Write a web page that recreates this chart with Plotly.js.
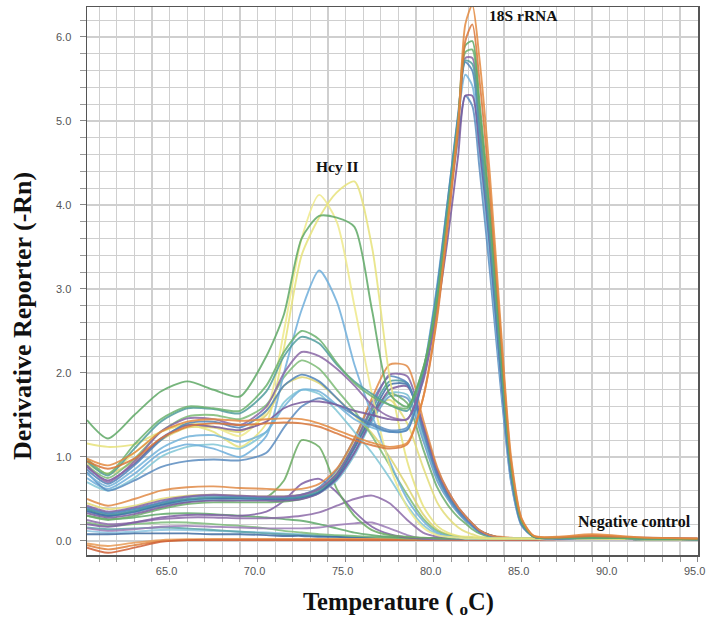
<!DOCTYPE html>
<html>
<head>
<meta charset="utf-8">
<script src="https://cdn.plot.ly/plotly-3.0.1.min.js"></script>
<style>html,body{margin:0;padding:0;background:#fff;}#chart{width:706px;height:620px;}</style>
</head>
<body>
<div id="chart"></div>
<script>
// Temperature grid (°C)
const temperature = [60.31, 61.5, 63, 64.5, 66, 67.5, 69, 70.5, 71.5, 72.5, 73.5, 74.5, 75.5, 76.5, 77.5, 78.5, 79.4, 80.2, 80.8, 81.4, 81.8, 82.2, 82.6, 83.2, 83.8, 84.4, 85.0, 85.7, 87, 89, 92, 95];

// Baseline / negative control curves
const b1 = [0.12,0.10,0.11,0.13,0.13,0.12,0.11,0.10,0.09,0.08,0.07,0.06,0.05,0.04,0.04, 0.03,0.03,0.03,0.03,0.03,0.03,0.03,0.03,0.03,0.03,0.03,0.03,0.03,0.03,0.03,0.02,0.02];
const b2 = [0.16,0.14,0.15,0.16,0.15,0.13,0.11,0.09,0.08,0.07,0.06,0.05,0.05,0.04,0.04, 0.03,0.03,0.03,0.03,0.03,0.03,0.03,0.03,0.03,0.03,0.03,0.03,0.03,0.03,0.03,0.02,0.02];
const b3 = [0.08,0.08,0.09,0.09,0.09,0.08,0.08,0.07,0.06,0.06,0.05,0.05,0.04,0.04,0.04, 0.03,0.03,0.03,0.03,0.03,0.03,0.03,0.03,0.03,0.03,0.03,0.03,0.03,0.03,0.03,0.02,0.02];
const b4 = [-0.05,-0.10,-0.05,0.00,0.01,0.02,0.02,0.02,0.02,0.02,0.02,0.02,0.02,0.02,0.02, 0.02,0.02,0.02,0.02,0.02,0.02,0.02,0.02,0.02,0.02,0.02,0.02,0.02,0.03,0.06,0.03,0.02];
const b5 = [-0.03,-0.06,-0.02,0.01,0.02,0.02,0.02,0.02,0.02,0.02,0.02,0.02,0.02,0.02,0.02, 0.02,0.02,0.02,0.02,0.02,0.02,0.02,0.02,0.02,0.02,0.02,0.02,0.02,0.03,0.04,0.03,0.02];
const b6 = [-0.08,-0.14,-0.08,-0.01,0.01,0.01,0.01,0.01,0.01,0.01,0.01,0.01,0.01,0.01,0.01, 0.01,0.01,0.01,0.01,0.01,0.01,0.01,0.01,0.01,0.01,0.01,0.01,0.01,0.02,0.03,0.02,0.01];
const b7 = [0.22,0.18,0.20,0.22,0.22,0.20,0.18,0.15,0.12,0.10,0.08,0.07,0.06,0.05,0.04, 0.03,0.03,0.03,0.03,0.03,0.03,0.03,0.03,0.03,0.03,0.03,0.03,0.03,0.03,0.03,0.02,0.02];
const b8 = [0.30,0.26,0.28,0.32,0.33,0.32,0.30,0.28,0.26,0.24,0.20,0.15,0.10,0.07,0.05, 0.04,0.03,0.03,0.03,0.03,0.03,0.03,0.03,0.03,0.03,0.03,0.03,0.03,0.03,0.03,0.02,0.02];

// Curves peaking near 78 °C
const m1 = [0.50,0.42,0.50,0.60,0.64,0.65,0.63,0.62,0.61,0.62,0.68,0.86,1.22,1.70,2.10, 2.08,1.45,0.88,0.60,0.40,0.30,0.21,0.13,0.07,0.05,0.04,0.03,0.03,0.04,0.07,0.03,0.02];
const m2 = [0.42,0.35,0.40,0.48,0.53,0.55,0.54,0.53,0.53,0.55,0.62,0.80,1.15,1.60,1.98, 1.96,1.38,0.84,0.58,0.39,0.29,0.20,0.12,0.07,0.04,0.03,0.03,0.03,0.03,0.03,0.02,0.02];
const m3 = [0.40,0.33,0.38,0.46,0.52,0.54,0.53,0.52,0.52,0.55,0.64,0.85,1.22,1.66,1.96, 1.88,1.30,0.78,0.53,0.35,0.26,0.18,0.11,0.06,0.04,0.03,0.03,0.03,0.03,0.03,0.02,0.02];
const m4 = [0.38,0.32,0.36,0.45,0.50,0.52,0.52,0.51,0.51,0.53,0.60,0.80,1.15,1.56,1.90, 1.88,1.33,0.80,0.55,0.37,0.28,0.19,0.12,0.07,0.04,0.03,0.03,0.03,0.03,0.03,0.02,0.02];
const m5 = [0.36,0.30,0.35,0.43,0.49,0.51,0.51,0.50,0.50,0.52,0.58,0.76,1.10,1.50,1.86, 1.86,1.36,0.83,0.57,0.38,0.29,0.20,0.12,0.07,0.04,0.03,0.03,0.03,0.03,0.03,0.02,0.02];
const m6 = [0.33,0.28,0.32,0.40,0.46,0.48,0.48,0.48,0.48,0.50,0.57,0.74,1.05,1.46,1.80, 1.84,1.38,0.86,0.60,0.40,0.30,0.21,0.13,0.07,0.04,0.03,0.03,0.03,0.03,0.03,0.02,0.02];
const m7 = [0.40,0.34,0.38,0.44,0.48,0.49,0.49,0.49,0.49,0.51,0.57,0.72,1.02,1.43,1.76, 1.74,1.25,0.76,0.52,0.35,0.26,0.17,0.11,0.06,0.04,0.03,0.03,0.03,0.03,0.03,0.02,0.02];
const m8 = [0.30,0.25,0.30,0.38,0.44,0.46,0.46,0.46,0.47,0.50,0.58,0.78,1.12,1.50,1.76, 1.64,1.10,0.64,0.43,0.28,0.21,0.14,0.09,0.05,0.04,0.03,0.03,0.03,0.03,0.03,0.02,0.02];
const m9 = [0.35,0.30,0.34,0.42,0.47,0.50,0.50,0.50,0.50,0.52,0.58,0.74,1.05,1.43,1.72, 1.70,1.20,0.72,0.50,0.33,0.24,0.17,0.10,0.06,0.04,0.03,0.03,0.03,0.03,0.03,0.02,0.02];
const m10 = [0.45,0.38,0.42,0.50,0.54,0.55,0.54,0.53,0.53,0.55,0.62,0.82,1.20,1.55,1.68, 1.40,0.88,0.46,0.28,0.16,0.11,0.08,0.05,0.04,0.03,0.03,0.03,0.03,0.03,0.03,0.02,0.02];

// Hcy II only curves
const h1 = [1.16,1.12,1.15,1.30,1.38,1.30,1.12,1.40,2.30,3.40,3.85,4.15,4.28,3.50,1.95, 0.95,0.42,0.18,0.10,0.06,0.05,0.05,0.04,0.03,0.03,0.03,0.03,0.03,0.03,0.03,0.02,0.02];
const h2 = [0.95,0.80,1.05,1.30,1.40,1.36,1.25,1.55,2.50,3.60,4.12,3.80,2.80,1.75,0.90, 0.40,0.16,0.07,0.05,0.04,0.03,0.03,0.03,0.03,0.03,0.03,0.03,0.03,0.03,0.03,0.02,0.02];
const h3 = [0.75,0.62,0.80,1.05,1.15,1.10,1.00,1.25,2.00,2.75,3.22,2.85,2.10,1.50,0.95, 0.50,0.24,0.10,0.06,0.04,0.03,0.03,0.03,0.03,0.03,0.03,0.03,0.03,0.03,0.03,0.02,0.02];
const h4 = [0.90,0.75,0.98,1.30,1.48,1.50,1.45,1.62,1.95,2.15,2.05,1.80,1.55,1.25,0.90, 0.55,0.27,0.12,0.07,0.05,0.04,0.04,0.03,0.03,0.03,0.03,0.03,0.03,0.03,0.03,0.02,0.02];
const h5 = [0.92,0.80,0.95,1.20,1.35,1.35,1.30,1.50,1.85,1.95,1.88,1.70,1.50,1.28,1.00, 0.65,0.32,0.14,0.08,0.05,0.04,0.04,0.03,0.03,0.03,0.03,0.03,0.03,0.03,0.03,0.02,0.02];
const h6 = [0.70,0.60,0.75,1.00,1.12,1.15,1.10,1.30,1.65,1.80,1.75,1.55,1.30,1.05,0.75, 0.42,0.19,0.08,0.05,0.04,0.03,0.03,0.03,0.03,0.03,0.03,0.03,0.03,0.03,0.03,0.02,0.02];
const h7 = [0.38,0.30,0.35,0.42,0.47,0.49,0.50,0.52,0.72,1.20,1.12,0.62,0.30,0.13,0.07, 0.05,0.04,0.03,0.03,0.03,0.03,0.03,0.03,0.03,0.03,0.03,0.03,0.03,0.03,0.03,0.02,0.02];
const h8 = [0.20,0.17,0.22,0.28,0.31,0.31,0.30,0.35,0.48,0.68,0.74,0.58,0.35,0.17,0.08, 0.04,0.03,0.03,0.03,0.03,0.03,0.03,0.03,0.03,0.03,0.03,0.03,0.03,0.03,0.03,0.02,0.02];
const h9 = [0.25,0.20,0.22,0.26,0.28,0.28,0.27,0.27,0.28,0.30,0.34,0.42,0.50,0.54,0.45, 0.25,0.10,0.05,0.03,0.03,0.03,0.03,0.03,0.03,0.03,0.03,0.03,0.03,0.03,0.03,0.02,0.02];
const h10 = [0.15,0.12,0.14,0.17,0.18,0.17,0.16,0.15,0.15,0.15,0.16,0.19,0.21,0.22,0.15, 0.07,0.03,0.02,0.02,0.02,0.02,0.02,0.02,0.02,0.02,0.02,0.02,0.02,0.02,0.02,0.02,0.02];

// Hcy II + 18S rRNA curves
const d1 = [0.98,0.90,1.05,1.30,1.42,1.45,1.43,1.45,1.46,1.45,1.40,1.32,1.24,1.17,1.12, 1.17,1.70,2.70,3.80,5.00,6.15,6.38,5.75,4.35,2.60,1.00,0.27,0.06,0.05,0.08,0.04,0.03];
const d2 = [0.95,0.86,0.98,1.22,1.36,1.40,1.38,1.40,1.41,1.40,1.36,1.28,1.20,1.14,1.10, 1.15,1.70,2.65,3.75,4.90,5.95,6.15,5.50,4.15,2.50,0.95,0.26,0.06,0.04,0.06,0.04,0.03];
const d3 = [1.44,1.22,1.50,1.78,1.90,1.80,1.72,2.20,2.70,3.60,3.87,3.85,3.74,2.75,1.75, 1.60,2.05,2.85,3.85,5.00,5.90,5.95,5.25,3.95,2.35,0.90,0.24,0.05,0.04,0.04,0.03,0.02];
const d4 = [0.98,0.80,1.15,1.45,1.60,1.58,1.55,1.85,2.25,2.50,2.40,2.12,1.88,1.72,1.62, 1.58,2.05,2.90,3.90,5.00,5.82,5.85,5.15,3.85,2.30,0.88,0.23,0.05,0.04,0.04,0.03,0.02];
const d5 = [0.95,0.78,1.10,1.42,1.58,1.57,1.52,1.78,2.20,2.43,2.35,2.10,1.90,1.75,1.62, 1.55,2.00,2.95,4.00,5.05,5.72,5.68,4.95,3.65,2.15,0.82,0.22,0.05,0.03,0.04,0.03,0.02];
const d6 = [0.90,0.70,0.95,1.30,1.46,1.45,1.38,1.60,2.00,2.25,2.20,2.05,1.85,1.62,1.48, 1.45,1.95,2.85,3.85,4.95,5.75,5.75,5.05,3.80,2.25,0.86,0.23,0.05,0.04,0.05,0.04,0.03];
const d7 = [0.85,0.68,0.90,1.20,1.40,1.42,1.35,1.55,1.85,1.98,1.90,1.70,1.50,1.38,1.30, 1.32,1.95,3.00,4.05,5.10,5.70,5.60,4.85,3.55,2.05,0.78,0.20,0.05,0.03,0.04,0.03,0.02];
const d8 = [0.88,0.72,0.92,1.22,1.38,1.36,1.32,1.42,1.58,1.65,1.66,1.62,1.55,1.50,1.45, 1.45,1.90,2.75,3.60,4.60,5.30,5.30,4.70,3.50,2.05,0.78,0.20,0.05,0.03,0.04,0.03,0.02];
const d9 = [0.80,0.65,0.85,1.10,1.24,1.26,1.18,1.30,1.60,1.80,1.78,1.62,1.45,1.35,1.30, 1.33,2.00,3.05,4.05,5.05,5.55,5.42,4.65,3.35,1.95,0.72,0.19,0.05,0.03,0.04,0.03,0.02];
const d10 = [0.82,0.60,0.72,0.88,0.95,0.97,0.96,1.05,1.35,1.60,1.70,1.62,1.50,1.40,1.32, 1.35,2.00,3.00,3.95,4.80,5.30,5.18,4.45,3.20,1.85,0.70,0.18,0.05,0.03,0.04,0.03,0.02];

const yTicks = [0, 1, 2, 3, 4, 5, 6];
const xTicks = [65, 70, 75, 80, 85, 90, 95];

// style table built from the named arrays
const curves = [
  [b1,'#8cc4e0'],[b2,'#5aa3a8'],[b3,'#3d6aa0'],[b4,'#de7f3c'],[b5,'#e89a55'],[b6,'#cf5f35'],[b7,'#7dbb7a'],[b8,'#5fa86a'],
  [h10,'#9a7ab5'],[h9,'#8c6aa8'],[h8,'#7f5ea3'],[h7,'#6aaa62'],
  [m10,'#e2dc78'],[m9,'#6596c8'],[m8,'#6cad6b'],[m7,'#74bcd0'],[m6,'#7a5b9c'],[m5,'#3f6ea6'],[m4,'#4a9a9e'],[m3,'#5586bd'],[m2,'#8463a5'],[m1,'#e08a45'],
  [h6,'#80c6d6'],[h5,'#ddd36f'],[h4,'#7dbb75'],[h3,'#6eaedb'],[h2,'#efe98a'],[h1,'#e6e27a'],
  [d10,'#5b8cc0'],[d9,'#72b3d9'],[d8,'#77589b'],[d7,'#4f83b9'],[d6,'#8a67a6'],[d5,'#4f9c9c'],[d4,'#6bb26f'],[d3,'#5ea865'],[d2,'#d9773a'],[d1,'#e3893f']
];

const traces = curves.map(c => ({
  x: temperature, y: c[0], type: 'scatter', mode: 'lines',
  line: {color: c[1], width: 1.9, shape: 'spline', smoothing: 0.7},
  opacity: 0.85, hoverinfo: 'skip'
}));

const gridCol = '#cfcfcf';
const tickFont = {family: 'Liberation Sans, Arial, sans-serif', size: 11, color: '#555'};
const serifBold = 'Liberation Serif, Times New Roman, serif';

const layout = {
  width: 706, height: 620,
  margin: {l: 87, r: 8, t: 7, b: 65},
  paper_bgcolor: '#fff', plot_bgcolor: '#fff',
  showlegend: false,
  xaxis: {
    range: [60.31, 95.02], tickvals: xTicks, tickformat: '.1f',
    ticks: 'outside', ticklen: 5, tickcolor: '#888', tickfont: tickFont, ticklabeloverflow: 'allow', ticklabelshift: -3,
    showgrid: true, gridcolor: gridCol, gridwidth: 1.3,
    minor: {dtick: 1, tick0: 60, ticks: 'outside', ticklen: 5, tickcolor: '#999', showgrid: true, gridcolor: gridCol, gridwidth: 1.3},
    showline: true, linecolor: '#555', linewidth: 1.5, mirror: true, zeroline: false
  },
  yaxis: {
    range: [-0.167, 6.357], tickvals: yTicks, tickformat: '.1f',
    ticks: 'outside', ticklen: 6, tickcolor: '#888', tickfont: tickFont, ticklabelstandoff: 6,
    showgrid: true, gridcolor: gridCol, gridwidth: 1.3,
    minor: {dtick: 0.2, tick0: 0, ticks: 'outside', ticklen: 6, tickcolor: '#999', showgrid: true, gridcolor: gridCol, gridwidth: 1.3},
    showline: true, linecolor: '#555', linewidth: 1.5, mirror: true, zeroline: false
  },
  annotations: [
    {text: '<b>18S rRNA</b>', x: 85.12, y: 6.256, xref: 'x', yref: 'y', showarrow: false, font: {family: serifBold, size: 15.5, color: '#111'}},
    {text: '<b>Hcy II</b>', x: 74.53, y: 4.458, xref: 'x', yref: 'y', showarrow: false, font: {family: serifBold, size: 15.5, color: '#111'}},
    {text: '<b>Negative control</b>', x: 91.43, y: 0.22, xref: 'x', yref: 'y', showarrow: false, font: {family: serifBold, size: 16, color: '#111'}},
    {text: '<b>Derivative Reporter (-Rn)</b>', x: -0.1064, y: 0.436, xref: 'paper', yref: 'paper', textangle: -90, showarrow: false, xanchor: 'center', yanchor: 'middle', font: {family: serifBold, size: 26, color: '#111'}},
    {text: '<b>Temperature ( <sub>o</sub>C)</b>', x: 0.51, y: -0.088, xref: 'paper', yref: 'paper', showarrow: false, xanchor: 'center', yanchor: 'middle', font: {family: serifBold, size: 24.5, color: '#111'}}
  ]
};

Plotly.newPlot('chart', traces, layout, {displayModeBar: false, staticPlot: true});
</script>
</body>
</html>
